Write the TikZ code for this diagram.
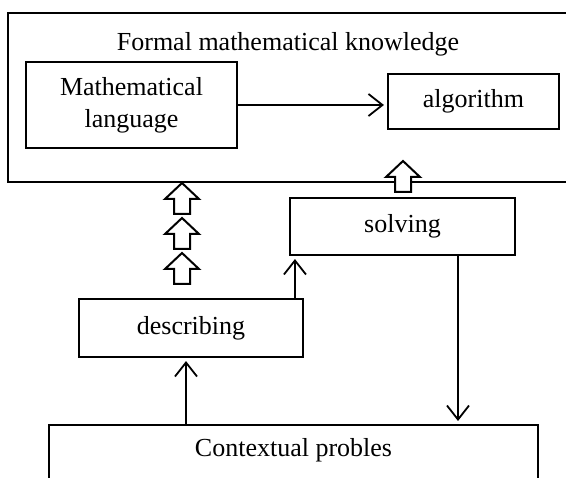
\documentclass[tikz,border=0pt]{standalone}
\usepackage{fontspec}
\setmainfont{Liberation Serif}
\usetikzlibrary{arrows.meta,calc}
\begin{document}
\begin{tikzpicture}[x=1pt,y=-1pt,
  txt/.style={font=\fontsize{26}{31}\selectfont, align=center, inner sep=0pt},
  box/.style={draw, line width=2.1pt, inner sep=0pt, font=\fontsize{26}{32}\selectfont, align=center},
  arr/.style={line width=1.8pt, -{Straight Barb[length=14pt,width=22pt,line width=1.8pt]}, shorten >=3pt},
  hollow/.pic={\draw[line width=2pt, fill=white, line join=miter] (0,0) -- (17,16) -- (8,16) -- (8,31) -- (-8,31) -- (-8,16) -- (-17,16) -- cycle;}
]
\useasboundingbox (0,0) rectangle (566,478);
% outer box
\node[box, line width=2.3pt, minimum width=562pt, minimum height=169pt] (outer) at (289,97.5) {};
\node[txt] (title) at (288,44) {Formal mathematical knowledge};
\node[box, minimum width=211pt, minimum height=86pt] (math) at (131.5,105) {Mathematical\\language};
\node[box, minimum width=171pt, minimum height=55pt] (alg) at (473.5,101.5) {algorithm};
\node[box, minimum width=225pt, minimum height=57pt] (solving) at (402.5,226.5) {solving};
\node[box, minimum width=224pt, minimum height=58pt] (describing) at (191,328) {describing};
\node[box, minimum width=489pt, minimum height=80pt, anchor=north] (ctx) at (293.5,424) {};
\node[txt] (ctxtext) at ($(ctx.north)+(0,26)$) {Contextual probles};
% hollow arrows
\pic at (182,183) {hollow};
\pic at (182,218) {hollow};
\pic at (182,253) {hollow};
\pic at (403,161) {hollow};
% connectors
\draw[arr] (math.east) -- (math.east -| alg.west);
\coordinate (s1) at ($(solving.south west)+(6,0)$);
\draw[arr] (s1 |- describing.north) -- (s1);
\coordinate (d1) at (458,0);
\draw[arr] (solving.south -| d1) -- (ctx.north -| d1);
\coordinate (u1) at (186,0);
\draw[arr] (ctx.north -| u1) -- (describing.south -| u1);
\end{tikzpicture}
\end{document}
